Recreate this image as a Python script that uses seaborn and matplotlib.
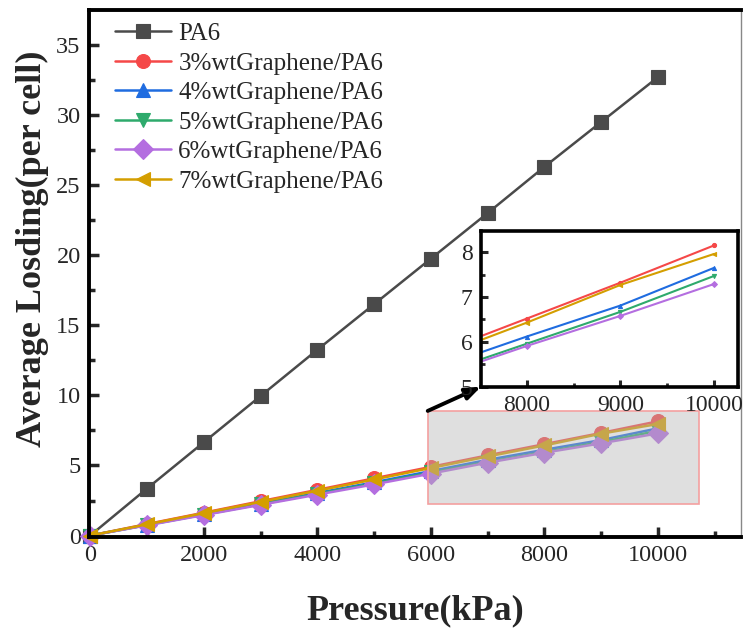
import numpy as np
import pandas as pd
import matplotlib
matplotlib.use("Agg")
import matplotlib.pyplot as plt
from matplotlib.patches import Rectangle
from matplotlib.ticker import MultipleLocator
import seaborn as sns

pressure = [0, 1000, 2000, 3000, 4000, 5000, 6000, 7000, 8000, 9000, 10000]
pa6 = [0, 3.35, 6.65, 9.95, 13.25, 16.5, 19.75, 23.0, 26.3, 29.5, 32.7]
g3 = [0, 0.82, 1.63, 2.45, 3.26, 4.08, 4.90, 5.72, 6.52, 7.32, 8.15]
g4 = [0, 0.76, 1.52, 2.28, 3.04, 3.80, 4.60, 5.40, 6.12, 6.81, 7.65]
g5 = [0, 0.75, 1.49, 2.23, 2.98, 3.72, 4.50, 5.25, 5.96, 6.67, 7.47]
g6 = [0, 0.73, 1.46, 2.19, 2.92, 3.65, 4.42, 5.20, 5.91, 6.58, 7.29]
g7 = [0, 0.80, 1.60, 2.40, 3.20, 4.00, 4.82, 5.64, 6.43, 7.27, 7.96]

names = ["PA6", "3%wtGraphene/PA6", "4%wtGraphene/PA6", "5%wtGraphene/PA6",
         "6%wtGraphene/PA6", "7%wtGraphene/PA6"]
series = [pa6, g3, g4, g5, g6, g7]
colors = ["#4a4a4a", "#f54848", "#1f6ce0", "#2eaa6c", "#b46ee0", "#d49e00"]
markers = ["s", "o", "^", "v", "D", "<"]

rows = []
for n, s in zip(names, series):
    for p, v in zip(pressure, s):
        rows.append({"Pressure": p, "Loading": v, "Material": n})
df = pd.DataFrame(rows)

sns.set_style("ticks")
plt.rcParams["font.family"] = ["Liberation Serif", "DejaVu Serif"]

fig = plt.figure(figsize=(7.43, 6.33), dpi=100)
ax = fig.add_axes([0.1198, 0.1517, 0.8775, 0.8325])

palette = dict(zip(names, colors))
mk = dict(zip(names, markers))
sns.lineplot(data=df, x="Pressure", y="Loading", hue="Material", style="Material",
             hue_order=names, style_order=names, palette=palette, markers=mk,
             dashes=False, markersize=10, linewidth=1.8, ax=ax, clip_on=False,
             legend=True)
for ln in ax.lines:
    ln.set_markeredgecolor(ln.get_color())
    ln.set_markeredgewidth(0.8)

ax.set_xlim(-20, 11460)
ax.set_ylim(-0.1, 37.48)
ax.xaxis.set_major_locator(MultipleLocator(2000))
ax.xaxis.set_minor_locator(MultipleLocator(1000))
ax.yaxis.set_major_locator(MultipleLocator(5))
ax.yaxis.set_minor_locator(MultipleLocator(2.5))
ax.tick_params(which="major", direction="in", length=7, width=2.5, labelsize=17.5, pad=6)
ax.tick_params(which="minor", direction="in", length=4, width=2.5)
for side in ["left", "bottom", "top"]:
    ax.spines[side].set_linewidth(2.8)
    ax.spines[side].set_color("black")
ax.spines["right"].set_linewidth(1.0)
ax.spines["right"].set_color("#888888")
ax.set_xlabel("Pressure(kPa)", fontsize=26, fontweight="bold", labelpad=20)
ax.set_ylabel("Average Losding(per cell)", fontsize=26, fontweight="bold")
ax.yaxis.set_label_coords(-0.062, 0.546)

leg = ax.legend(loc="upper left", bbox_to_anchor=(0.02, 1.0), frameon=False,
                fontsize=18, handlelength=2.25, handletextpad=0.3,
                labelspacing=0.28, borderaxespad=0.1)
for h in leg.legend_handles:
    h.set_markeredgecolor(h.get_color())

# shaded zoom region
rect = Rectangle((5944, 2.28), 10723 - 5944, 8.89 - 2.28,
                 facecolor=(0.70, 0.70, 0.70, 0.42), edgecolor="#f4a0a0",
                 linewidth=1.2, zorder=5)
ax.add_patch(rect)

# inset
axin = fig.add_axes([0.6474, 0.389, 0.3458, 0.246])
sub = df[df["Pressure"] >= 7000]
sns.lineplot(data=sub, x="Pressure", y="Loading", hue="Material", style="Material",
             hue_order=names[1:], style_order=names[1:], palette=palette, markers=mk,
             dashes=False, markersize=3, linewidth=1.5, ax=axin, legend=False)
for ln in axin.lines:
    ln.set_markeredgecolor(ln.get_color())
axin.set_xlim(7510, 10255)
axin.set_ylim(5, 8.47)
axin.xaxis.set_major_locator(MultipleLocator(1000))
axin.xaxis.set_minor_locator(MultipleLocator(500))
axin.yaxis.set_major_locator(MultipleLocator(1))
axin.yaxis.set_minor_locator(MultipleLocator(0.5))
axin.tick_params(which="major", direction="in", length=5, width=2.2, labelsize=17, pad=6)
axin.tick_params(which="minor", direction="in", length=3, width=2.0)
for side in axin.spines.values():
    side.set_linewidth(2.6)
    side.set_color("black")
axin.set_xlabel("")
axin.set_ylabel("")

# arrow from shaded box to inset
ax.annotate("", xy=(0.0, 0.0), xycoords=axin.transAxes,
            xytext=(5944, 8.89), textcoords="data",
            arrowprops=dict(arrowstyle="-|>,head_length=0.9,head_width=0.35",
                            color="black", lw=2.8, shrinkA=0, shrinkB=0),
            zorder=6)

fig.savefig("out.png", dpi=100)
